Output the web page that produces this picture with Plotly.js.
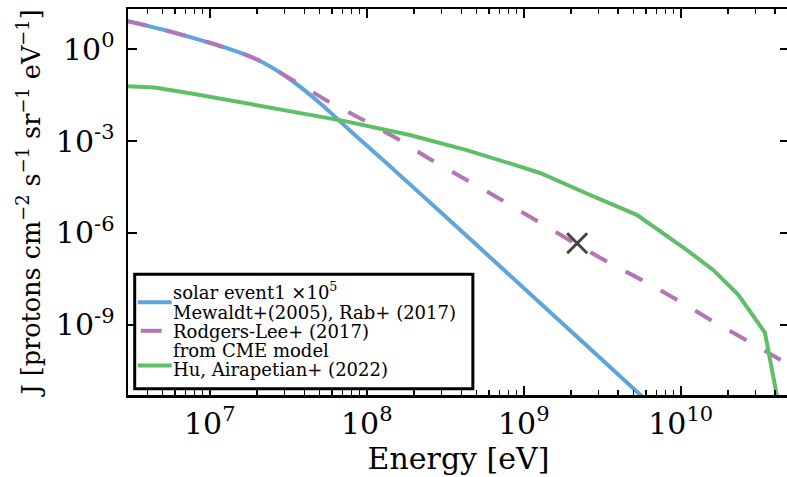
<!DOCTYPE html>
<html>
<head>
<meta charset="utf-8">
<script src="https://cdn.plot.ly/plotly-3.0.1.min.js"></script>
<style>
html, body { margin: 0; padding: 0; overflow: hidden; background: #fff; }
#chart { width: 790px; height: 477px; }
</style>
</head>
<body>
<div id="chart"></div>
<script>
// ---- data ----
const solarEnergy = [3.01e6, 5.0e6, 7.9e6, 1.26e7, 2.0e7, 3.16e7, 5.0e7, 7.9e7, 1.26e8, 3.16e8, 1.0e9, 3.16e9, 6.3e9];
const solarFlux   = [8.3, 4.4, 2.3, 1.12, 0.46, 0.115, 0.018, 2.1e-3, 2.5e-4, 3.5e-6, 1.6e-8, 7.2e-11, 2.8e-12];

const rodgersEnergy = [3.01e6, 5.0e6, 7.9e6, 1.26e7, 2.0e7, 3.16e7, 3.98e7, 5.41e7, 9.12e7, 1.55e8, 2.59e8, 4.33e8, 7.23e8, 1.21e9, 3.40e9, 5.77e9, 9.66e9, 1.61e10, 2.70e10, 4.9e10];
const rodgersFlux   = [8.3, 4.4, 2.3, 1.12, 0.46, 0.12, 0.060, 0.023, 5.5e-3, 1.23e-3, 2.4e-4, 5.4e-5, 1.2e-5, 2.5e-6, 1.15e-7, 2.75e-8, 6.2e-9, 1.29e-9, 2.9e-10, 4.9e-11];

const cmeEnergy = [3.01e6, 4.46e6, 7.64e6, 1.25e7, 2.03e7, 3.32e7, 5.41e7, 7.24e7, 1.88e8, 4.33e8, 8.17e8, 1.27e9, 2.52e9, 5.25e9, 1.09e10, 1.61e10, 2.33e10, 3.44e10, 4.27e10];
const cmeFlux   = [0.062, 0.056, 0.036, 0.023, 0.0148, 9.8e-3, 6.2e-3, 4.5e-3, 1.58e-3, 5.1e-4, 1.86e-4, 9.1e-5, 1.95e-5, 3.9e-6, 2.8e-7, 6.2e-8, 9.5e-9, 5.6e-10, 1.6e-12];

const markEnergy = [2.19e9];
const markFlux   = [4.6e-7];

const seriesNames = [
  "solar event1 ×10<sup>5</sup><br>Mewaldt+(2005), Rab+ (2017)",
  "Rodgers-Lee+ (2017)",
  "from CME model<br>Hu, Airapetian+ (2022)"
];
const seriesColors = ["#5DA5DA", "#B276B2", "#60BD68"];

const xTickVals = [1e7, 1e8, 1e9, 1e10];
const xTickText = ["10<sup>7</sup>", "10<sup>8</sup>", "10<sup>9</sup>", "10<sup>10</sup>"];
const yTickVals = [1, 1e-3, 1e-6, 1e-9];
const yTickText = ["10<sup>0</sup>", "10<sup>-3</sup>", "10<sup>-6</sup>", "10<sup>-9</sup>"];

// minor tick positions on the log energy axis
const xMinor = [];
for (let p = 6; p <= 10; p++) {
  for (let m = 2; m <= 9; m++) xMinor.push(m * Math.pow(10, p));
}

const FONT = "DejaVu Serif, serif";
const W = 790, H = 477;
const M = { l: 128.3, r: 1, t: 8.7, b: 81.7 };
const PW = W - M.l - M.r, PH = H - M.t - M.b;
const px2x = px => (px - M.l) / PW;
const py2y = py => (H - M.b - py) / PH;

const traces = [
  { x: solarEnergy, y: solarFlux, mode: "lines", name: seriesNames[0], showlegend: false,
    line: { color: seriesColors[0], width: 4, shape: "spline", smoothing: 0.9 } },
  { x: rodgersEnergy, y: rodgersFlux, mode: "lines", name: seriesNames[1], showlegend: false,
    line: { color: seriesColors[1], width: 4, dash: "19px,21px", shape: "spline", smoothing: 0.9 } },
  { x: cmeEnergy, y: cmeFlux, mode: "lines", name: seriesNames[2], showlegend: false,
    line: { color: seriesColors[2], width: 4 } },
  { x: markEnergy, y: markFlux, mode: "markers", showlegend: false,
    marker: { symbol: "x-thin-open", size: 20, color: "#444444",
              line: { color: "#444444", width: 3 } } }
];

// ---- legend (box, keys, labels) ----
const legendLines = [
  "solar event1 ×10<sup>5</sup>",
  "Mewaldt+(2005), Rab+ (2017)",
  "Rodgers-Lee+ (2017)",
  "from CME model",
  "Hu, Airapetian+ (2022)"
];
const legendBaselines = [299.3, 318.5, 337.7, 356.9, 376.1];
const LFS = 18;

const shapes = [
  { type: "rect", xref: "paper", yref: "paper", layer: "above",
    x0: px2x(135), x1: px2x(473), y0: py2y(389), y1: py2y(274.3),
    fillcolor: "white", line: { color: "black", width: 3 } },
  { type: "line", xref: "paper", yref: "paper", layer: "above",
    x0: px2x(138), x1: px2x(172), y0: py2y(302.3), y1: py2y(302.3),
    line: { color: seriesColors[0], width: 4 } },
  { type: "line", xref: "paper", yref: "paper", layer: "above",
    x0: px2x(141), x1: px2x(162), y0: py2y(331), y1: py2y(331),
    line: { color: seriesColors[1], width: 4 } },
  { type: "line", xref: "paper", yref: "paper", layer: "above",
    x0: px2x(138), x1: px2x(172), y0: py2y(365.7), y1: py2y(365.7),
    line: { color: seriesColors[2], width: 4 } }
];

const annotations = legendLines.map((t, i) => ({
  text: t, xref: "paper", yref: "paper",
  x: px2x(173.3), y: py2y(legendBaselines[i] + 0.236 * LFS),
  xanchor: "left", yanchor: "bottom", showarrow: false,
  borderpad: 0, borderwidth: 0,
  font: { family: FONT, size: LFS, color: "black" }
}));

const layout = {
  width: W, height: H,
  margin: M,
  paper_bgcolor: "white", plot_bgcolor: "white",
  font: { family: FONT, color: "black" },
  showlegend: false,
  shapes: shapes,
  annotations: annotations,
  xaxis: {
    type: "log", range: [6.479, 10.690],
    showgrid: false, zeroline: false,
    showline: true, linecolor: "black", linewidth: 2.5, mirror: "ticks",
    ticks: "inside", ticklen: 9, tickwidth: 2, tickcolor: "black",
    tickmode: "array", tickvals: xTickVals, ticktext: xTickText,
    tickfont: { family: FONT, size: 30, color: "black" },
    minor: { ticks: "inside", ticklen: 5, tickwidth: 1.5, tickcolor: "black",
             tickmode: "array", tickvals: xMinor, showgrid: false },
    title: { text: "Energy [eV]", font: { family: FONT, size: 30, color: "black" }, standoff: 6 }
  },
  yaxis: {
    type: "log", range: [-11.292, 1.314],
    showgrid: false, zeroline: false,
    showline: true, linecolor: "black", linewidth: 2.5, mirror: "ticks",
    ticks: "inside", ticklen: 9, tickwidth: 2, tickcolor: "black",
    tickmode: "array", tickvals: yTickVals, ticktext: yTickText,
    ticklabelstandoff: 5,
    tickfont: { family: FONT, size: 30, color: "black" },
    title: { text: "J [protons cm<sup>−2</sup> s<sup>−1</sup> sr<sup>−1</sup> eV<sup>−1</sup>]",
             font: { family: FONT, size: 25.5, color: "black" }, standoff: 8 }
  }
};

Plotly.newPlot("chart", traces, layout, { displayModeBar: false, staticPlot: true });
</script>
</body>
</html>
